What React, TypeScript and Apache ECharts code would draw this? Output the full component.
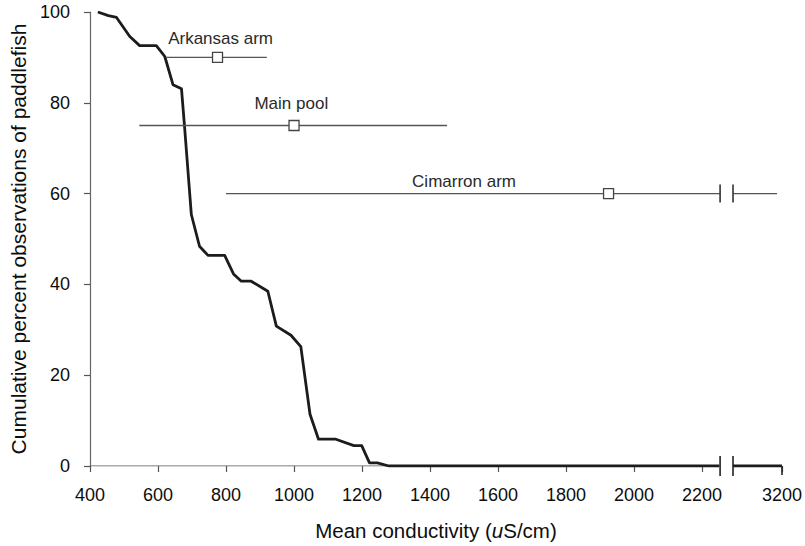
import React, { useEffect, useRef } from "react";
import * as echarts from "echarts";

// Cumulative curve (real conductivity uS/cm, cumulative percent)
const curveConductivity = [423, 454, 478, 517, 546, 595, 620, 644, 669, 678, 698, 722, 747, 796, 822, 845, 874, 923, 948, 991, 1020, 1047, 1072, 1123, 1176, 1199, 1222, 1245, 1279, 2250];
const curvePercent = [100, 99.2, 98.8, 94.6, 92.6, 92.6, 90.2, 84, 83.1, 74.8, 55.4, 48.4, 46.4, 46.4, 42.3, 40.7, 40.7, 38.5, 30.8, 28.8, 26.3, 11.4, 5.9, 5.9, 4.5, 4.5, 0.7, 0.7, 0, 0];
// Curve continued after the axis break
const tailConductivity = [3000, 3200];
const tailPercent = [0, 0];

// Range bars per reservoir zone
const groupNames = ["Arkansas arm", "Main pool", "Cimarron arm"];
const groupLow = [625, 545, 800];
const groupMean = [775, 1000, 1925];
const groupHigh = [920, 1450, 3180];
const groupPercent = [90, 75, 60];
// Label anchors (data units)
const labelConductivity = [784, 992, 1500];
const labelPercent = [94.1, 79.8, 62.6];

// Axis tick values
const xTickValues = [400, 600, 800, 1000, 1200, 1400, 1600, 1800, 2000, 2200, 3200];
const yTickValues = [0, 20, 40, 60, 80, 100];

// Axis break: real values between BREAK_LOW and AFTER_LOW are cut out
const BREAK_LOW = 2253;
const AFTER_LOW = 3000;
const AFTER_HIGH = 3200;
const AXIS_AFTER_START = 2291;
const AXIS_MAX = 2435;

function toAxis(v: number): number {
  if (v <= BREAK_LOW) return v;
  return AXIS_AFTER_START + ((v - AFTER_LOW) * (AXIS_MAX - AXIS_AFTER_START)) / (AFTER_HIGH - AFTER_LOW);
}

const FONT = "'Liberation Sans', Arial, Helvetica, sans-serif";

export default function App() {
  const ref = useRef<HTMLDivElement>(null);

  useEffect(() => {
    if (!ref.current) return;
    const chart = echarts.init(ref.current, undefined, { renderer: "svg" });

    const xAxisTicks = xTickValues.map(toAxis);

    const curveData = curveConductivity.map((c, i) => [toAxis(c), curvePercent[i]]);
    const tailData = tailConductivity.map((c, i) => [toAxis(c), tailPercent[i]]);

    const barData = groupNames.map((_, i) => [toAxis(groupMean[i]), groupPercent[i], i]);

    const option: any = {
      animation: false,
      backgroundColor: "#ffffff",
      textStyle: { fontFamily: FONT },
      grid: { left: 90, right: 21, top: 12, bottom: 79, containLabel: false },
      xAxis: {
        type: "value",
        min: 400,
        max: AXIS_MAX,
        axisLine: { show: false },
        splitLine: { show: false },
        axisTick: {
          show: true,
          customValues: xAxisTicks,
          length: 6,
          lineStyle: { color: "#555", width: 1.2 },
        },
        axisLabel: {
          customValues: xAxisTicks,
          margin: 20,
          fontSize: 18,
          color: "#0d0d0d",
          fontFamily: FONT,
          formatter: (v: number) => {
            const idx = xAxisTicks.findIndex((t) => Math.abs(t - v) < 0.5);
            return idx >= 0 ? String(xTickValues[idx]) : "";
          },
        },
        name: "Mean conductivity ({it|u}S/cm)",
        nameLocation: "middle",
        nameGap: 54,
        nameTextStyle: {
          fontSize: 20.5,
          color: "#0d0d0d",
          fontFamily: FONT,
          rich: {
            it: { fontSize: 20.5, fontStyle: "italic", color: "#0d0d0d", fontFamily: FONT },
          },
        },
      },
      yAxis: {
        type: "value",
        min: 0,
        max: 100,
        interval: 20,
        axisLine: { show: true, lineStyle: { color: "#666", width: 1.2 } },
        axisTick: { show: true, length: 6, lineStyle: { color: "#555", width: 1.2 } },
        splitLine: { show: false },
        axisLabel: {
          margin: 20,
          fontSize: 18,
          color: "#0d0d0d",
          fontFamily: FONT,
          customValues: yTickValues,
        },
        name: "Cumulative percent observations of paddlefish",
        nameLocation: "middle",
        nameGap: 61,
        nameRotate: 90,
        nameTextStyle: { fontSize: 21, color: "#0d0d0d", fontFamily: FONT },
      },
      series: [
        {
          name: "x-axis-left",
          type: "line",
          silent: true,
          symbol: "none",
          data: [[400, 0], [BREAK_LOW, 0]],
          lineStyle: { color: "#555", width: 1.2 },
          z: 1,
        },
        {
          name: "x-axis-right",
          type: "line",
          silent: true,
          symbol: "none",
          data: [[AXIS_AFTER_START, 0], [AXIS_MAX, 0]],
          lineStyle: { color: "#555", width: 1.2 },
          z: 1,
        },
        {
          name: "axis-break",
          type: "custom",
          silent: true,
          clip: false,
          data: [[BREAK_LOW, 0]],
          renderItem: (params: any, api: any) => {
            const p1 = api.coord([BREAK_LOW, 0]);
            const p2 = api.coord([AXIS_AFTER_START, 0]);
            const p3 = api.coord([AXIS_MAX, 0]);
            const st = { stroke: "#222", lineWidth: 1.6 };
            return {
              type: "group",
              children: [
                { type: "line", shape: { x1: p1[0], y1: p1[1] - 10, x2: p1[0], y2: p1[1] + 10 }, style: st },
                { type: "line", shape: { x1: p2[0], y1: p2[1] - 10, x2: p2[0], y2: p2[1] + 10 }, style: st },
                { type: "line", shape: { x1: p3[0], y1: p3[1], x2: p3[0], y2: p3[1] + 9 }, style: st },
              ],
            };
          },
          z: 3,
        },
        {
          name: "curve",
          type: "line",
          symbol: "none",
          data: curveData,
          lineStyle: { color: "#1c1c1c", width: 2.8, join: "round" },
          z: 4,
        },
        {
          name: "curve-tail",
          type: "line",
          symbol: "none",
          data: tailData,
          lineStyle: { color: "#1c1c1c", width: 2.8 },
          z: 4,
        },
        {
          name: "ranges",
          type: "custom",
          clip: false,
          data: barData,
          encode: { x: 0, y: 1 },
          renderItem: (params: any, api: any) => {
            const i = api.value(2);
            const y = groupPercent[i];
            const low = groupLow[i];
            const high = groupHigh[i];
            const children: any[] = [];
            const lineStyle = { stroke: "#555", lineWidth: 1.3 };
            const pLow = api.coord([toAxis(low), y]);
            if (high > BREAK_LOW) {
              const pB1 = api.coord([BREAK_LOW, y]);
              const pB2 = api.coord([AXIS_AFTER_START, y]);
              const pHigh = api.coord([toAxis(high), y]);
              children.push({ type: "line", shape: { x1: pLow[0], y1: pLow[1], x2: pB1[0], y2: pB1[1] }, style: lineStyle });
              children.push({ type: "line", shape: { x1: pB2[0], y1: pB2[1], x2: pHigh[0], y2: pHigh[1] }, style: lineStyle });
              children.push({ type: "line", shape: { x1: pB1[0], y1: pB1[1] - 9, x2: pB1[0], y2: pB1[1] + 9 }, style: { stroke: "#333", lineWidth: 1.6 } });
              children.push({ type: "line", shape: { x1: pB2[0], y1: pB2[1] - 9, x2: pB2[0], y2: pB2[1] + 9 }, style: { stroke: "#333", lineWidth: 1.6 } });
            } else {
              const pHigh = api.coord([toAxis(high), y]);
              children.push({ type: "line", shape: { x1: pLow[0], y1: pLow[1], x2: pHigh[0], y2: pHigh[1] }, style: lineStyle });
            }
            const pm = api.coord([toAxis(groupMean[i]), y]);
            const s = 10;
            children.push({
              type: "rect",
              shape: { x: pm[0] - s / 2, y: pm[1] - s / 2, width: s, height: s },
              style: { fill: "#ffffff", stroke: "#444", lineWidth: 1.3 },
            });
            const pl = api.coord([labelConductivity[i], labelPercent[i]]);
            children.push({
              type: "text",
              x: pl[0],
              y: pl[1],
              style: {
                text: groupNames[i],
                fontSize: 17,
                fontFamily: FONT,
                fill: "#2a2a2a",
                align: "center",
                verticalAlign: "middle",
              },
            });
            return { type: "group", children };
          },
          z: 5,
        },
      ],
    };

    chart.setOption(option);
    return () => {
      chart.dispose();
    };
  }, []);

  return (
    <div
      ref={ref}
      style={{ position: "fixed", left: 0, top: 0, width: 805, height: 546, background: "#fff" }}
    />
  );
}
